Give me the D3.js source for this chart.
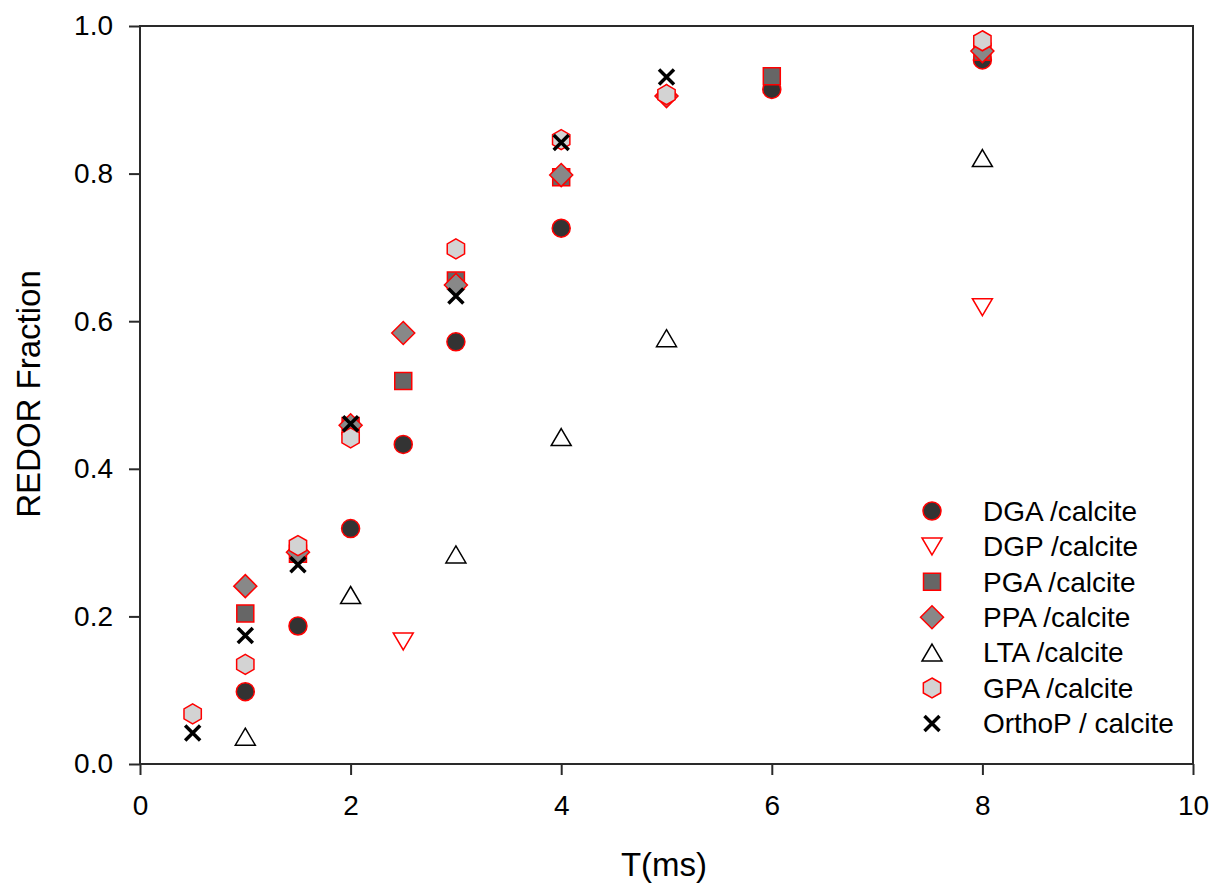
<!DOCTYPE html>
<html>
<head>
<meta charset="utf-8">
<script src="https://cdn.jsdelivr.net/npm/d3@7"></script>
<style>
  body { margin: 0; background: #fff; }
  svg { display: block; }
  text { font-family: Arial, "Liberation Sans", sans-serif; fill: #000; }
</style>
</head>
<body>
<svg id="chart" width="1212" height="886"></svg>
<script>
// values, [T (ms), REDOR fraction]
const dga    = [[1,0.098],[1.5,0.187],[2,0.319],[2.5,0.433],[3,0.572],[4,0.726],[6,0.914],[8,0.954]];
const dgp    = [[2.5,0.166],[8,0.619]];
const pga    = [[1,0.204],[1.5,0.285],[2,0.458],[2.5,0.519],[3,0.655],[4,0.795],[6,0.932],[8,0.965]];
const ppa    = [[1,0.241],[1.5,0.287],[2,0.459],[2.5,0.584],[3,0.649],[4,0.798],[5,0.905],[8,0.966]];
const lta    = [[1,0.037],[2,0.229],[3,0.284],[4,0.443],[5,0.577],[8,0.821]];
const gpa    = [[0.5,0.068],[1,0.135],[1.5,0.296],[2,0.442],[3,0.698],[4,0.846],[5,0.907],[8,0.980]];
const orthoP = [[0.5,0.042],[1,0.174],[1.5,0.270],[2,0.461],[3,0.634],[4,0.842],[5,0.931]];

const seriesNames = ['DGA /calcite','DGP /calcite','PGA /calcite','PPA /calcite','LTA /calcite','GPA /calcite','OrthoP / calcite'];
const xTicks = [0,2,4,6,8,10];
const yTicks = [0,0.2,0.4,0.6,0.8,1.0];

// marker shapes, size argument is used as a pixel radius
const circleSym  = {draw(c, r){ c.moveTo(r,0); c.arc(0,0,r,0,2*Math.PI); }};
const squareSym  = {draw(c, r){ c.rect(-r,-r,2*r,2*r); }};
const diamondSym = {draw(c, r){ c.moveTo(0,-r); c.lineTo(r,0); c.lineTo(0,r); c.lineTo(-r,0); c.closePath(); }};
const triUpSym   = {draw(c, r){ c.moveTo(0,-0.85*r); c.lineTo(r,0.85*r); c.lineTo(-r,0.85*r); c.closePath(); }};
const triDnSym   = {draw(c, r){ c.moveTo(0,0.85*r); c.lineTo(r,-0.85*r); c.lineTo(-r,-0.85*r); c.closePath(); }};
const hexSym     = {draw(c, r){
  for (let i = 0; i < 6; i++) {
    const a = (-90 + 60*i) * Math.PI/180;
    if (i == 0) c.moveTo(r*Math.cos(a), r*Math.sin(a)); else c.lineTo(r*Math.cos(a), r*Math.sin(a));
  }
  c.closePath();
}};
const xSym       = {draw(c, r){ c.moveTo(-r,-r); c.lineTo(r,r); c.moveTo(-r,r); c.lineTo(r,-r); }};

const series = [
  {name: seriesNames[0], data: dga,    type: circleSym,  size: 9,    fill: '#333333', stroke: '#ff0000', sw: 1.5},
  {name: seriesNames[1], data: dgp,    type: triDnSym,   size: 10,   fill: '#ffffff', stroke: '#ff0000', sw: 1.5},
  {name: seriesNames[2], data: pga,    type: squareSym,  size: 8.5,  fill: '#666666', stroke: '#ff0000', sw: 1.5},
  {name: seriesNames[3], data: ppa,    type: diamondSym, size: 11.5, fill: '#888888', stroke: '#ff0000', sw: 1.5},
  {name: seriesNames[4], data: lta,    type: triUpSym,   size: 10,   fill: '#ffffff', stroke: '#000000', sw: 1.5},
  {name: seriesNames[5], data: gpa,    type: hexSym,     size: 10,   fill: '#d3d3d3', stroke: '#ff0000', sw: 1.5},
  {name: seriesNames[6], data: orthoP, type: xSym,       size: 7.5,  fill: 'none',    stroke: '#000000', sw: 3.5}
];

const svg = d3.select('#chart');
const x = d3.scaleLinear().domain([0,10]).range([140,1193]);
const y = d3.scaleLinear().domain([0,1]).range([764,26]);

// plot frame
svg.append('rect')
  .attr('x', x(0)).attr('y', y(1))
  .attr('width', x(10)-x(0)).attr('height', y(0)-y(1))
  .attr('fill', 'none').attr('stroke', '#2a2a2a').attr('stroke-width', 2);

const xAxis = svg.append('g')
  .attr('transform', `translate(0,${y(0)})`)
  .call(d3.axisBottom(x).tickValues(xTicks).tickFormat(d3.format('d')).tickSize(11).tickSizeOuter(0).tickPadding(20));

const yAxis = svg.append('g')
  .attr('transform', `translate(${x(0)},0)`)
  .call(d3.axisLeft(y).tickValues(yTicks).tickFormat(d3.format('.1f')).tickSize(11).tickSizeOuter(0).tickPadding(16));

[xAxis, yAxis].forEach(a => {
  a.select('.domain').remove();
  a.selectAll('line').attr('stroke', '#2a2a2a').attr('stroke-width', 2);
  a.selectAll('text').style('font-size', '28px').attr('fill', '#000');
});

// axis titles
svg.append('text')
  .attr('x', 664).attr('y', 876)
  .attr('text-anchor', 'middle')
  .style('font-size', '33px')
  .text('T(ms)');

svg.append('text')
  .attr('transform', 'translate(40,394) rotate(-90)')
  .attr('text-anchor', 'middle')
  .style('font-size', '33px')
  .text('REDOR Fraction');

// points
const sym = d3.symbol();
series.forEach(s => {
  svg.append('g').selectAll('path')
    .data(s.data)
    .enter()
    .append('path')
    .attr('transform', d => `translate(${x(d[0])},${y(d[1])})`)
    .attr('d', sym.type(s.type).size(s.size)())
    .attr('fill', s.fill)
    .attr('stroke', s.stroke)
    .attr('stroke-width', s.sw);
});

// legend
var legend = svg.append('g').attr('transform', 'translate(932,511)');
series.forEach((s, i) => {
  var row = legend.append('g').attr('transform', `translate(0,${i*35.4})`);
  row.append('path')
    .attr('d', sym.type(s.type).size(s.size)())
    .attr('fill', s.fill)
    .attr('stroke', s.stroke)
    .attr('stroke-width', s.sw);
  row.append('text')
    .attr('x', 51).attr('y', 0).attr('dy', '0.35em')
    .style('font-size', '28px')
    .text(s.name);
});
</script>
</body>
</html>
